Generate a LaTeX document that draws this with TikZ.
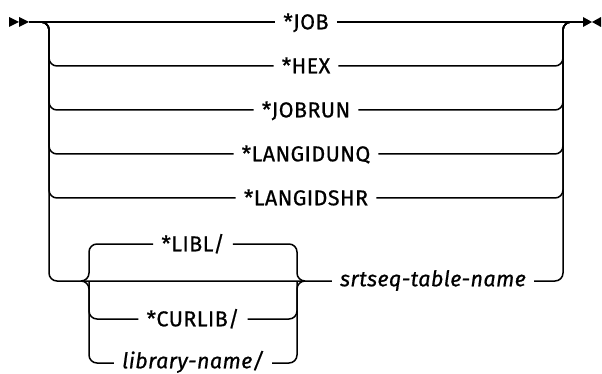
\documentclass[tikz,border=0pt]{standalone}
\usepackage{fontspec}
\setmainfont{Fira Sans}
\newfontfamily\railfont{Fira Sans}[FakeBold=0.7, LetterSpace=2]
\usetikzlibrary{calc}
\begin{document}
\begin{tikzpicture}[x=1pt,y=-1pt,
  rail/.style={line width=1.5pt, rounded corners=8pt, line join=round},
  kw/.style={font=\railfont\fontsize{21.5}{21.5}\selectfont, inner xsep=8pt, inner ysep=0pt, text height=14.6pt, text depth=0pt},
  var/.style={kw, font=\railfont\fontsize{21.5}{21.5}\selectfont\itshape, text height=10.5pt},
  tip/.style={fill=black}
]
\useasboundingbox (0,0) rectangle (602,374);
% bus coordinates
\coordinate (s) at (29,22);
\coordinate (e) at (583,22);
\coordinate (lbus) at (49,22);
\coordinate (rbus) at (563,22);
\coordinate (lbr) at (89,281);
\coordinate (lcusp) at (81,281);
\coordinate (rbr) at (297,281);
\coordinate (rcusp) at (305,281);
% start / end marks
\fill[tip] (s) -- ++(-10,-5) -- ++(0,10) -- cycle;
\fill[tip] ($(s)+(-10,0)$) -- ++(-10,-5) -- ++(0,10) -- cycle;
\fill[tip] ($(e)+(0,-5)$) -- ++(9,5) -- ++(-9,5) -- cycle;
\fill[tip] ($(e)+(18,-5)$) -- ++(-9,5) -- ++(9,5) -- cycle;
% nodes
\node[kw] (job) at (306,22) {*JOB};
\node[kw] (hex) at (306,66) {*HEX};
\node[kw] (jobrun) at (306,110) {*JOBRUN};
\node[kw] (unq) at (306,154) {*LANGIDUNQ};
\node[kw] (shr) at (306,198) {*LANGIDSHR};
\node[kw] (libl) at (193,244) {*LIBL/};
\node[kw] (curlib) at (193,319) {*CURLIB/};
\node[var] (libname) at (193,363) {library-name/};
\node[var] (tab) at (433,281) {srtseq-table-name};
% main line
\draw[rail] (s) -- (job.west);
\draw[rail] (job.east) -- (e);
% options
\foreach \n in {hex,jobrun,unq,shr}{
  \draw[rail] (s) -- (lbus) -- (lbus |- \n.west) -- (\n.west);
  \draw[rail] (\n.east) -- (rbus |- \n.east) -- (rbus) -- (e);
}
\draw[rail] (s) -- (lbus) -- (lbus |- tab.west) -- (tab.west);
\draw[rail] (tab.east) -- (rbus |- tab.east) -- (rbus) -- (e);
% library group
\draw[rail] (lcusp) -- (lbr) -- (lbr |- libl.west) -- (libl.west);
\draw[rail] (lcusp) -- (lbr) -- (lbr |- libname.west) -- (libname.west);
\draw[rail] (lbr) -- (lbr |- curlib.west) -- (curlib.west);
\draw[rail] (libl.east) -- (rbr |- libl.east) -- (rbr) -- (rcusp);
\draw[rail] (libname.east) -- (rbr |- libname.east) -- (rbr) -- (rcusp);
\draw[rail] (curlib.east) -- (rbr |- curlib.east) -- (rbr);
\end{tikzpicture}
\end{document}
